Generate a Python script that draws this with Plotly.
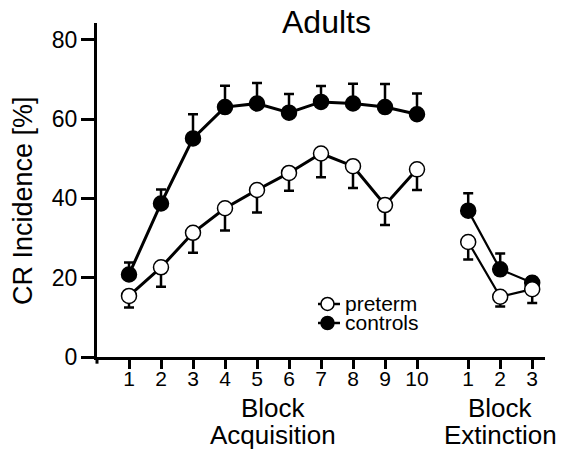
import plotly.graph_objects as go

# Data
acq_blocks = [1, 2, 3, 4, 5, 6, 7, 8, 9, 10]
ext_blocks = [11.6, 12.6, 13.6]
ext_labels = ["1", "2", "3"]

controls_acq = [20.8, 38.7, 55.1, 63.0, 63.9, 61.6, 64.3, 63.9, 63.0, 61.2]
controls_acq_err = [3.0, 3.5, 6.1, 5.4, 5.2, 4.7, 4.0, 5.0, 5.8, 5.2]
preterm_acq = [15.4, 22.6, 31.3, 37.5, 42.1, 46.4, 51.3, 48.1, 38.3, 47.3]
preterm_acq_err = [2.9, 4.9, 5.0, 5.6, 5.7, 4.5, 6.0, 5.5, 5.0, 5.2]

controls_ext = [36.9, 22.1, 18.7]
controls_ext_err = [4.4, 4.0, 1.4]
preterm_ext = [29.0, 15.2, 17.1]
preterm_ext_err = [4.4, 2.5, 3.5]

yticks = [0, 20, 40, 60, 80]
legend_names = ["preterm", "controls"]

FONT = "Liberation Sans, Arial, sans-serif"

fig = go.Figure()

def add(x, y, err, up, filled, name, lw):
    zeros = [0] * len(err)
    fig.add_trace(go.Scatter(
        x=x, y=y, mode="lines+markers", name=name, showlegend=False,
        line=dict(color="black", width=lw),
        marker=dict(symbol="circle", size=15,
                    color="black" if filled else "white",
                    line=dict(color="black", width=1.5)),
        error_y=dict(type="data", symmetric=False,
                     array=err if up else zeros,
                     arrayminus=zeros if up else err,
                     color="black", thickness=2.5, width=5),
    ))

add(acq_blocks, controls_acq, controls_acq_err, True, True, "controls", 3)
add(ext_blocks, controls_ext, controls_ext_err, True, True, "controls", 2.2)
add(acq_blocks, preterm_acq, preterm_acq_err, False, False, "preterm", 3)
add(ext_blocks, preterm_ext, preterm_ext_err, False, False, "preterm", 2.2)

fig.update_layout(
    width=561, height=449,
    margin=dict(l=97, r=16, t=23, b=92),
    paper_bgcolor="white", plot_bgcolor="white",
    font=dict(family=FONT, color="black", size=20),
    showlegend=False,
    xaxis=dict(range=[0, 14.0], showgrid=False, zeroline=False,
               showline=True, linecolor="black", linewidth=3,
               ticks="outside", ticklen=9, tickwidth=2.5, tickcolor="black",
               tickvals=acq_blocks + ext_blocks,
               ticktext=[str(b) for b in acq_blocks] + ext_labels,
               tickfont=dict(size=21), ticklabelstandoff=-8),
    yaxis=dict(range=[0, 84.2], showgrid=False, zeroline=False,
               showline=True, linecolor="black", linewidth=3,
               ticks="outside", ticklen=13, tickwidth=2.5, tickcolor="black",
               tickvals=yticks, tickfont=dict(size=23), ticklabelstandoff=-1),
)

fig.add_annotation(text="Adults", x=0.513, y=1.0, xref="paper", yref="paper",
                   yshift=1, showarrow=False, font=dict(size=32),
                   xanchor="center", yanchor="middle")
for xc, word in [(5.5, "Acquisition"), (12.6, "Extinction")]:
    fig.add_annotation(text="Block", x=xc, y=0, xref="x", yref="paper",
                       yshift=-51, showarrow=False, font=dict(size=26),
                       xanchor="center", yanchor="middle")
    fig.add_annotation(text=word, x=xc, y=0, xref="x", yref="paper",
                       yshift=-78, showarrow=False, font=dict(size=26),
                       xanchor="center", yanchor="middle")
fig.add_annotation(text="CR Incidence [%]", x=0, y=39.3, xref="paper", yref="y",
                   xshift=-74, showarrow=False, font=dict(size=27),
                   textangle=-90, xanchor="center", yanchor="middle")

# y-axis stub below the x-axis
fig.add_shape(type="line", xref="paper", yref="paper", x0=0, x1=0, y0=0, y1=-0.02,
              line=dict(color="black", width=3))

# manual legend
leg_y = [0.1587, 0.1018]
leg_fill = ["white", "black"]
for name, ly, fc in zip(legend_names, leg_y, leg_fill):
    fig.add_shape(type="line", xref="paper", yref="paper", x0=0.4933, x1=0.5424,
                  y0=ly, y1=ly, line=dict(color="black", width=2.5))
    fig.add_shape(type="circle", xref="paper", yref="paper",
                  xsizemode="pixel", ysizemode="pixel",
                  xanchor=0.5145, yanchor=ly, x0=-6.5, x1=6.5, y0=-6.5, y1=6.5,
                  fillcolor=fc, line=dict(color="black", width=1.5))
    fig.add_annotation(text=name, x=0.5536, y=ly, xref="paper", yref="paper",
                       showarrow=False, font=dict(size=21),
                       xanchor="left", yanchor="middle", xshift=-2)

fig.write_html("out.html")
